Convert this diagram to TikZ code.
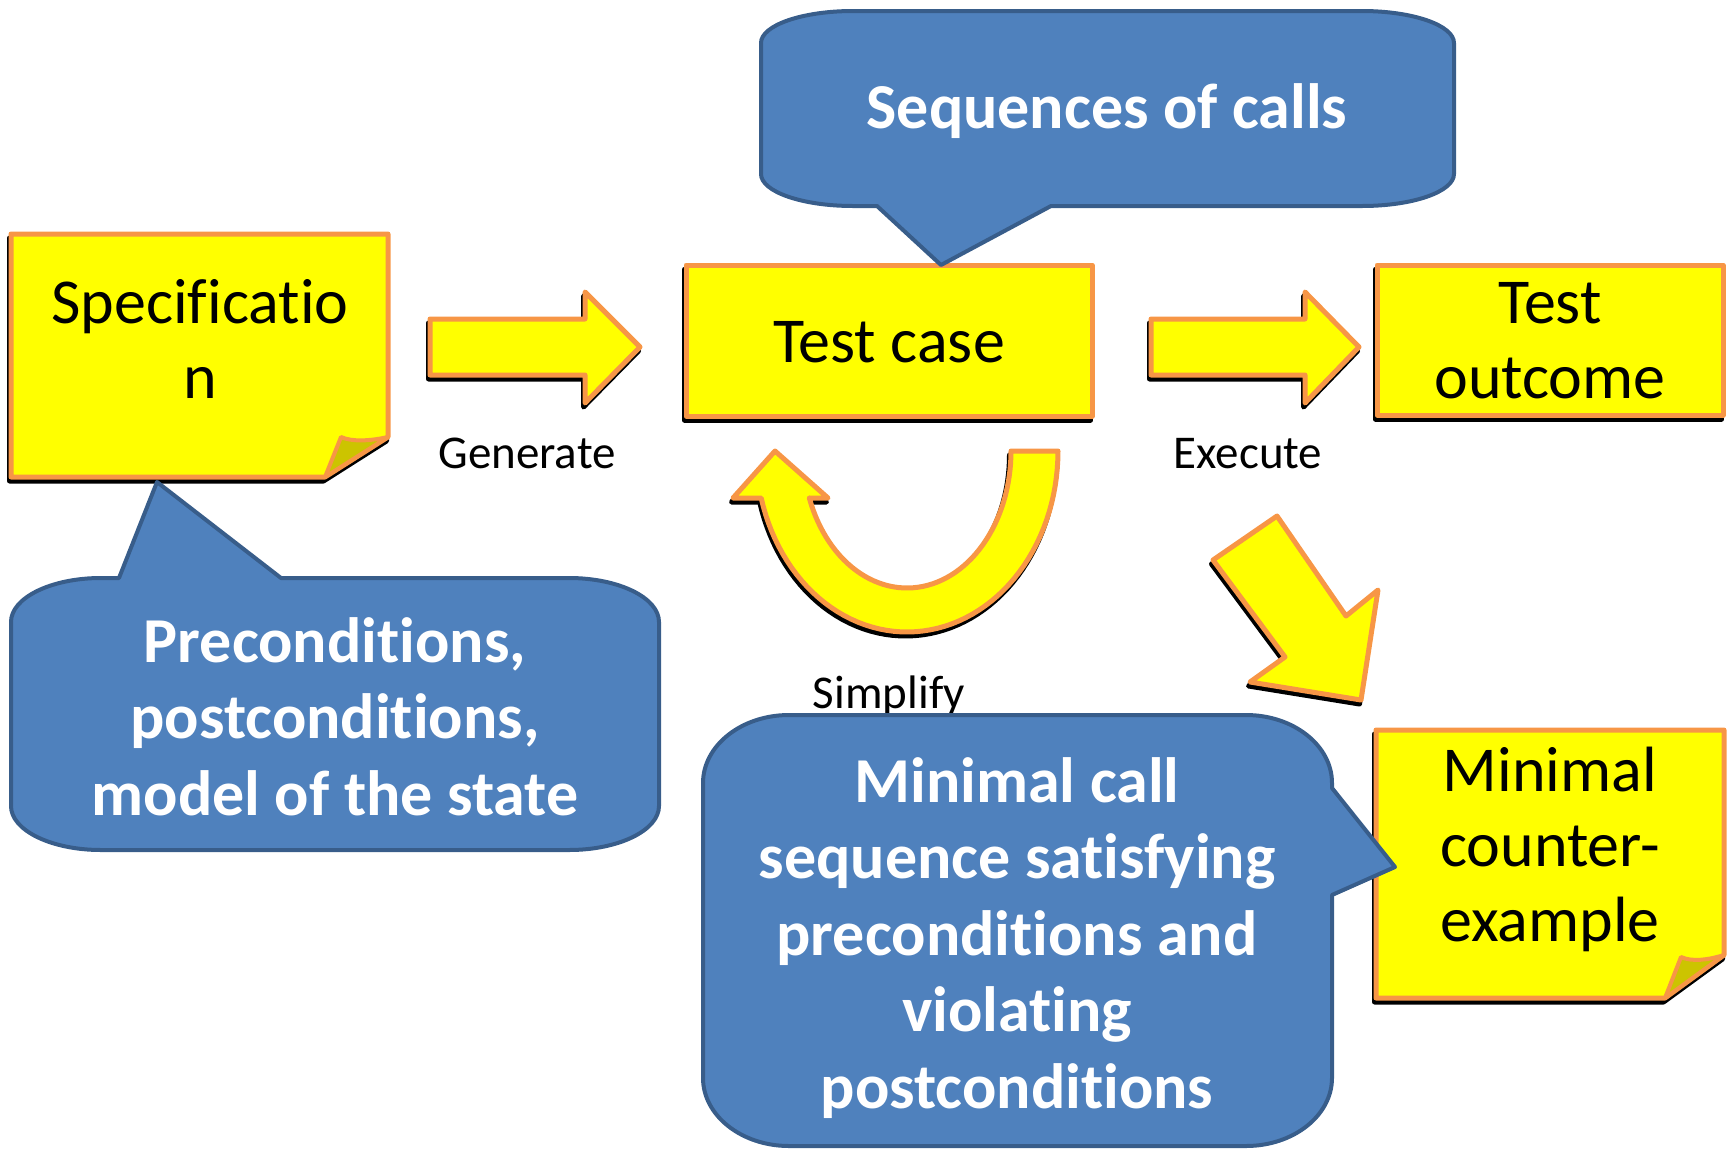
\documentclass[tikz,border=0pt]{standalone}
\usepackage{fontspec}
\setmainfont{Carlito}[RawFeature={-liga;-clig;-dlig}]
\newcommand{\nolig}{\kern0pt{}}
\definecolor{ylw}{HTML}{FFFF00}
\definecolor{org}{HTML}{F79646}
\definecolor{bfill}{HTML}{4F81BD}
\definecolor{bline}{HTML}{385D8A}
\definecolor{flapc}{RGB}{204,196,0}
\tikzset{
 yshape/.style={fill=ylw, draw=org, line width=5pt, line join=round,
   preaction={draw=black, fill=black, line width=5pt, line join=round, transform canvas={shift={(-1.5,4)}}}},
 flapshape/.style={fill=flapc, draw=org, line width=4pt, line join=round},
 bubble/.style={fill=bfill, draw=bline, line width=4pt, line join=round},
 bigtxt/.style={font=\fontsize{64}{75}\selectfont, align=center, inner sep=0pt},
 whitetxt/.style={font=\bfseries\fontsize{64}{76.5}\selectfont, text=white, align=center, inner sep=0pt},
 smalltxt/.style={font=\fontsize{47}{56}\selectfont, inner sep=0pt},
}
\begin{document}
\begin{tikzpicture}[x=1pt,y=-1pt]
\useasboundingbox (0,0) rectangle (1730,1149);
% Specification note
\draw[yshape] (11,234) -- (388,234) -- (388,437) -- (325,477) -- (11,477) -- cycle;
\draw[flapshape] (325,477) -- (341,437) .. controls (352,442) and (370,441) .. (388,437) -- cycle;
\node[bigtxt, anchor=base] (spec) at (200,398) {Specif\nolig icat\nolig io\\n};
% block arrows
\draw[yshape] (430,319) -- (585,319) -- (585,292) -- (640,347) -- (585,403) -- (585,375) -- (430,375) -- cycle;
\draw[yshape] (1151,319) -- (1305,319) -- (1305,292) -- (1359,347) -- (1305,403) -- (1305,375) -- (1151,375) -- cycle;
% Test case / outcome
\draw[yshape] (686,265) rectangle (1092,416);
\node[bigtxt, anchor=base] (tc) at (889,362) {Test case};
\draw[yshape] (1377,265) rectangle (1723,415);
\node[bigtxt, anchor=base] (to) at (1550,398) {Test\\outcome};
% top callout
\draw[bubble] (761,43) .. controls (761,25.3) and (802.2,11) .. (853,11) -- (1362,11)
  .. controls (1412.8,11) and (1454,25.3) .. (1454,43) -- (1454,174)
  .. controls (1454,191.7) and (1412.8,206) .. (1362,206) -- (1051,206) -- (941,265) -- (877,206) -- (853,206)
  .. controls (802.2,206) and (761,191.7) .. (761,174) -- cycle;
\node[whitetxt, anchor=base] (seq) at (1107,128) {Sequences of calls};
% U-turn arrow
\draw[yshape] plot[domain=0:164.95, samples=60] ({907+151*cos(\x)},{451+181*sin(\x)})
  -- (733,498) -- (775,451) -- (828,498)
  -- plot[domain=159.94:0, samples=60] ({907+104*cos(\x)},{451+137*sin(\x)}) -- cycle;
% diagonal arrow
\draw[yshape] (1213,560) -- (1277,516) -- (1346,616) -- (1378,590) -- (1361,700) -- (1250,682) -- (1285,657) -- cycle;
% labels
\node[smalltxt, anchor=base] (gen) at (527,468) {Generate};
\node[smalltxt, anchor=base] (exe) at (1248,468) {Execute};
\node[smalltxt, anchor=base] (simp) at (889,708) {Simplify};
% preconditions callout
\draw[bubble] (11,622) .. controls (11,597.7) and (51.3,578) .. (101,578) -- (119,578) -- (157,482) -- (281,578) -- (569,578)
  .. controls (618.7,578) and (659,597.7) .. (659,622) -- (659,806)
  .. controls (659,830.3) and (618.7,850) .. (569,850) -- (101,850)
  .. controls (51.3,850) and (11,830.3) .. (11,806) -- cycle;
\node[whitetxt, anchor=base] (pre) at (335,815) {Precondit\nolig ions,\\postcondit\nolig ions,\\model of the state};
% counterexample note
\draw[yshape] (1376,730) -- (1724,730) -- (1724,955) -- (1665,998) -- (1376,998) -- cycle;
\draw[flapshape] (1665,998) -- (1681,957) .. controls (1692,962) and (1708,960) .. (1724,955) -- cycle;
\node[bigtxt, anchor=base] (mce) at (1550,941) {Minimal\\counter-\\example};
% bottom callout
\draw[bubble] (703,783) .. controls (703,745.5) and (741.5,715) .. (789,715) -- (1246,715)
  .. controls (1293.5,715) and (1332,745.5) .. (1332,783) -- (1332,788) -- (1395,867) -- (1332,895) -- (1332,1078)
  .. controls (1332,1115.5) and (1293.5,1146) .. (1246,1146) -- (789,1146)
  .. controls (741.5,1146) and (703,1115.5) .. (703,1078) -- cycle;
\node[whitetxt, anchor=base] (mincall) at (1017,1108) {Minimal call\\sequence satisf\nolig ying\\precondit\nolig ions and\\violat\nolig ing\\postcondit\nolig ions};
\end{tikzpicture}
\end{document}
